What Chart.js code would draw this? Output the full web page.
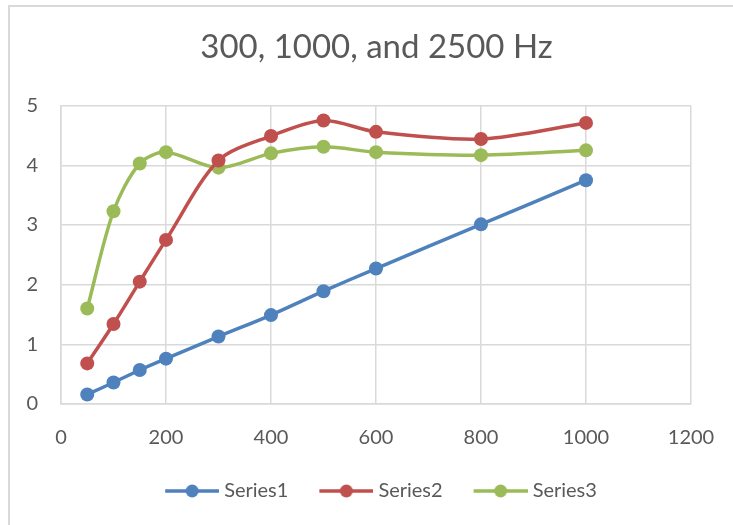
<!DOCTYPE html>
<html>
<head>
<meta charset="utf-8">
<script src="https://cdn.jsdelivr.net/npm/chart.js@4/dist/chart.umd.min.js"></script>
<style>
  html, body { margin: 0; padding: 0; background: #ffffff; }
  #frame {
    position: absolute; left: 8px; top: 5px; width: 760px; height: 560px;
    border-top: 2px solid #d9d9d9; border-left: 2px solid #d9d9d9;
  }
  #wrap { position: absolute; left: 0; top: 0; width: 733px; height: 525px; }
</style>
</head>
<body>
<div id="frame"></div>
<div id="wrap"><canvas id="c" width="733" height="525"></canvas></div>
<script>
// Frequencies on the horizontal axis
const frequencies = [50, 100, 150, 200, 300, 400, 500, 600, 800, 1000];

// Measured values per series
const series1 = [0.16, 0.36, 0.57, 0.76, 1.13, 1.49, 1.89, 2.27, 3.01, 3.75];
const series2 = [0.68, 1.34, 2.05, 2.75, 4.08, 4.49, 4.75, 4.56, 4.44, 4.71];
const series3 = [1.60, 3.23, 4.03, 4.22, 3.96, 4.20, 4.31, 4.22, 4.17, 4.25];

const seriesNames = ['Series1', 'Series2', 'Series3'];
const seriesColors = ['#4f81bd', '#c0504d', '#9bbb59'];

// Axis ticks
const xTicks = [0, 200, 400, 600, 800, 1000, 1200];
const yTicks = [0, 1, 2, 3, 4, 5];

const titleText = '300, 1000, and 2500 Hz';
const FONT = 'Lato, "Open Sans", sans-serif';
const TEXT = '#595959';
const GRID = '#d9d9d9';

function points(values) {
  return frequencies.map((f, i) => ({ x: f, y: values[i] }));
}

// Legend marker: a short line with a dot in the middle; the transparent
// strip on the left spaces the legend entries apart
const MARK_GAP = 14, MARK_LINE = 54;
function legendMarker(color) {
  const c = document.createElement('canvas');
  c.width = MARK_GAP + MARK_LINE; c.height = 16;
  const g = c.getContext('2d');
  g.strokeStyle = color; g.lineWidth = 3.5;
  g.beginPath(); g.moveTo(MARK_GAP, 8); g.lineTo(MARK_GAP + MARK_LINE, 8); g.stroke();
  g.fillStyle = color;
  g.beginPath(); g.arc(MARK_GAP + MARK_LINE / 2, 8, 6.5, 0, Math.PI * 2); g.fill();
  return c;
}
const markers = seriesColors.map(legendMarker);

const allSeries = [series1, series2, series3];
const datasets = allSeries.map((vals, i) => ({
  label: seriesNames[i],
  data: points(vals),
  showLine: true,
  borderColor: seriesColors[i],
  backgroundColor: seriesColors[i],
  borderWidth: 3.5,
  pointRadius: 7,
  pointHoverRadius: 7,
  pointBorderWidth: 0,
  tension: 0.3,
  cubicInterpolationMode: 'default'
}));

new Chart(document.getElementById('c'), {
  type: 'scatter',
  data: { datasets },
  options: {
    responsive: false,
    animation: false,
    layout: { padding: { left: 20, right: 0, top: 0, bottom: 14 } },
    plugins: {
      title: {
        display: true,
        text: titleText,
        color: TEXT,
        font: { family: FONT, size: 33, weight: 'normal' },
        padding: { top: 28, bottom: 38 }
      },
      legend: {
        position: 'bottom',
        labels: {
          color: TEXT,
          font: { family: FONT, size: 20 },
          usePointStyle: true,
          pointStyleWidth: MARK_GAP + MARK_LINE - 10,
          padding: 22,
          generateLabels(chart) {
            return chart.data.datasets.map((ds, i) => ({
              text: ds.label,
              fillStyle: ds.borderColor,
              strokeStyle: ds.borderColor,
              fontColor: TEXT,
              lineWidth: 0,
              pointStyle: markers[i],
              datasetIndex: i,
              hidden: false
            }));
          }
        }
      },
      tooltip: { enabled: false }
    },
    scales: {
      x: {
        type: 'linear',
        min: 0, max: 1200,
        afterBuildTicks(axis) { axis.ticks = xTicks.map(v => ({ value: v })); },
        afterFit(axis) { axis.height = 55; },
        grid: { color: GRID, lineWidth: 1.5, drawTicks: true, tickLength: 20, tickColor: 'rgba(0,0,0,0)' },
        border: { color: GRID, width: 1.5 },
        ticks: { color: TEXT, font: { family: FONT, size: 20 }, padding: 2,
                 callback: v => String(v) }
      },
      y: {
        type: 'linear',
        min: 0, max: 5,
        afterBuildTicks(axis) { axis.ticks = yTicks.map(v => ({ value: v })); },
        afterFit(axis) { axis.width = 41; },
        grid: { color: GRID, lineWidth: 1.5, drawTicks: false },
        border: { color: GRID, width: 1.5 },
        ticks: { color: TEXT, font: { family: FONT, size: 20 }, padding: 23,
                 callback: v => String(v) }
      },
      // empty right-hand axis reserving the margin beside the plot
      yRight: {
        type: 'linear',
        position: 'right',
        display: true,
        min: 0, max: 5,
        afterFit(axis) { axis.width = 42; },
        grid: { display: false, drawTicks: false },
        border: { display: false },
        ticks: { display: false }
      }
    }
  }
});
</script>
</body>
</html>
